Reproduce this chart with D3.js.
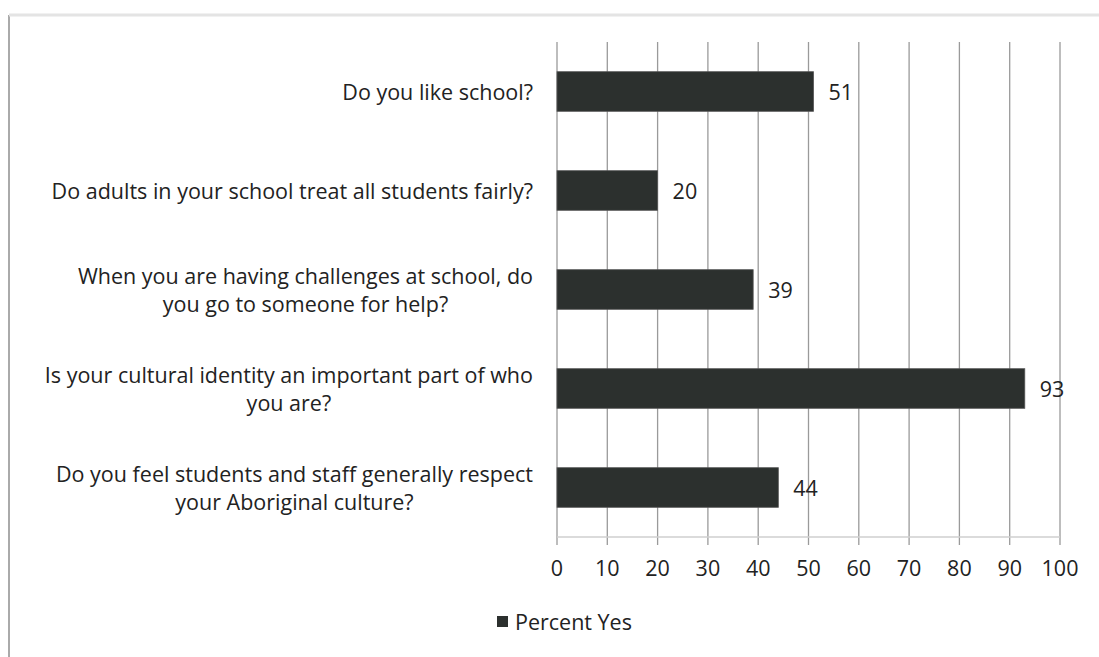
<!DOCTYPE html>
<html><head><meta charset="utf-8">
<script src="https://cdn.jsdelivr.net/npm/d3@7"></script>
<style>body{margin:0;background:#fff}svg{display:block}</style>
</head><body>
<svg id="c" width="1099" height="657"></svg>
<script>
const categories = [
  ["Do you like school?"],
  ["Do adults in your school treat all students fairly?"],
  ["When you are having challenges at school, do", "you go to someone for help?"],
  ["Is your cultural identity an important part of who", "you are?"],
  ["Do you feel students and staff generally respect", "your Aboriginal culture?"]
];
const values = [51, 20, 39, 93, 44];
const ticks = [0,10,20,30,40,50,60,70,80,90,100];
const seriesName = "Percent Yes";

const svg = d3.select("#c");
const font = "'Open Sans', Lato, sans-serif";
const fs = 21.5;
const x = d3.scaleLinear().domain([0,100]).range([557,1060]);
const y = d3.scaleBand().domain(d3.range(values.length)).range([42,537]).paddingInner(0.6).paddingOuter(0.3);

// frame
svg.append("line").attr("x1",9).attr("x2",9).attr("y1",15).attr("y2",657).attr("stroke","#aaa").attr("stroke-width",2);
svg.append("line").attr("x1",9).attr("x2",1099).attr("y1",15).attr("y2",15).attr("stroke","#e4e4e4").attr("stroke-width",3);

// gridlines
svg.append("g").selectAll("line").data(ticks).join("line")
  .attr("x1",d=>x(d)).attr("x2",d=>x(d)).attr("y1",42).attr("y2",545)
  .attr("stroke","#9a9a9a").attr("stroke-width",1.3);
// axis baseline
svg.append("line").attr("x1",x(0)).attr("x2",x(100)).attr("y1",537).attr("y2",537).attr("stroke","#cfcfcf").attr("stroke-width",1.5);

// tick labels
svg.append("g").selectAll("text").data(ticks).join("text")
  .attr("x",d=>x(d)).attr("y",576).attr("text-anchor","middle")
  .attr("font-family",font).attr("font-size",fs).attr("fill","#222").text(d=>d);

// bars
svg.append("g").selectAll("rect").data(values).join("rect")
  .attr("x",x(0)).attr("y",(d,i)=>y(i)).attr("width",d=>x(d)-x(0)).attr("height",y.bandwidth())
  .attr("fill","#2c302e").attr("stroke","#555").attr("stroke-width",0.8);

// value labels
svg.append("g").selectAll("text").data(values).join("text")
  .attr("x",d=>x(d)+15).attr("y",(d,i)=>y(i)+y.bandwidth()/2+8)
  .attr("font-family",font).attr("font-size",fs).attr("fill","#222").text(d=>d);

// category labels: block right-aligned at 533, lines centered within block
const cg = svg.append("g");
categories.forEach((lines,i)=>{
  const cy = y(i)+y.bandwidth()/2;
  const n = lines.length;
  const nodes = lines.map((t,j)=>cg.append("text").attr("y",cy + (j-(n-1)/2)*28 + 8)
      .attr("text-anchor","middle").attr("font-family",font).attr("font-size",fs).attr("fill","#222").text(t));
  const maxW = d3.max(nodes, nd=>nd.node().getComputedTextLength());
  nodes.forEach(nd=>nd.attr("x",533 - maxW/2));
});

// legend
svg.append("rect").attr("x",497).attr("y",616).attr("width",11).attr("height",11).attr("fill","#2c302e");
svg.append("text").attr("x",515).attr("y",630).attr("font-family",font).attr("font-size",fs).attr("fill","#222").text(seriesName);
</script>
</body></html>
